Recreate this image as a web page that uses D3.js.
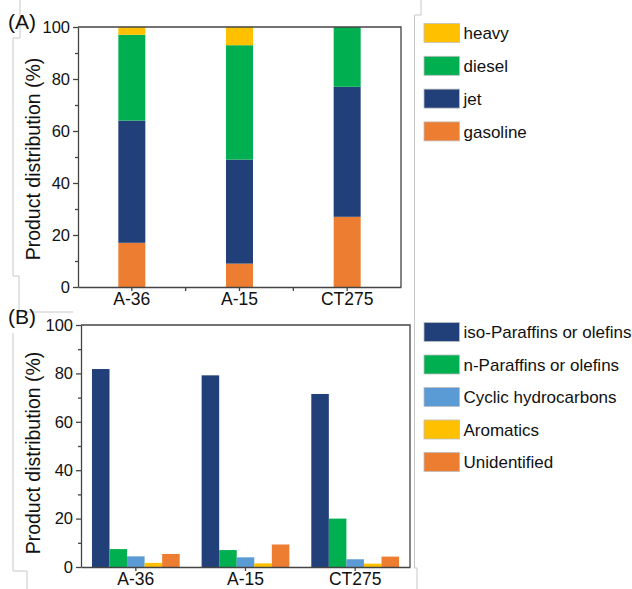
<!DOCTYPE html>
<meta charset="utf-8">
<style>
body { margin: 0; background: #fff; font-family: "Liberation Sans", Arial, Helvetica, sans-serif; }
.axis path, .axis line { stroke: #444; stroke-width: 1.3; }
.axis text { font-size: 16.5px; fill: #111; font-family: "Liberation Sans", Arial, sans-serif; }
.xaxis text { font-size: 17.5px; }
.frame { stroke: #444; stroke-width: 1.3; fill: none; }
.deco { stroke: #c8c8c8; stroke-width: 1; fill: none; }
.legend text { font-size: 17px; fill: #111; }
.ylab { font-size: 19.5px; fill: #111; }
.panel { font-size: 21px; fill: #111; }
</style>
<svg width="632" height="589"></svg>
<script src="https://cdnjs.cloudflare.com/ajax/libs/d3/7.8.5/d3.min.js"></script>
<script>

var catalysts = ["A-36", "A-15", "CT275"];

// panel A: fuel fractions (%), stacked bottom to top
var fuelKeys = ["gasoline", "jet", "diesel", "heavy"];
var gasoline = [17, 9, 27];
var jet      = [47, 40, 50];
var diesel   = [33, 44, 23];
var heavy    = [3, 7, 0];

// panel B: hydrocarbon types (%)
var typeKeys = ["iso-Paraffins or olefins", "n-Paraffins or olefins", "Cyclic hydrocarbons", "Aromatics", "Unidentified"];
var isoPar   = [81.8, 79.2, 71.5];
var nPar     = [7.4, 7.0, 20.0];
var cyclic   = [4.4, 4.0, 3.2];
var aromatic = [1.7, 1.5, 1.4];
var unident  = [5.4, 9.3, 4.3];

var yTicks = [0, 20, 40, 60, 80, 100];
var yMinor = [10, 30, 50, 70, 90];

var fuelColor = d3.scaleOrdinal()
    .domain(fuelKeys)
    .range(["#ED7D31", "#21407A", "#00B050", "#FFC000"]);
var typeColor = d3.scaleOrdinal()
    .domain(typeKeys)
    .range(["#21407A", "#00B050", "#5B9BD5", "#FFC000", "#ED7D31"]);

var svg = d3.select("svg");

// faint frame lines left over from the original figure composite
var decoLines = [
  [[20, 0], [20, 38], [13, 38], [13, 276], [19, 276], [19, 312], [73, 312]],
  [[13, 333], [13, 571], [27, 571], [27, 589]],
  [[421, 0], [421, 15], [414.5, 15], [414.5, 300]],
  [[414.5, 300], [414.5, 568], [417, 568], [417, 589]]
];
svg.selectAll(".deco").data(decoLines).enter().append("path")
    .attr("class", "deco")
    .attr("d", d3.line());

function drawFrame(x, y) {
  var x0 = x.range()[0], x1 = x.range()[1];
  var y0 = y.range()[0], y1 = y.range()[1];
  svg.append("path").attr("class", "frame")
      .attr("d", "M" + x0 + "," + y1 + "H" + x1 + "V" + y0);

  svg.append("g").attr("class", "axis")
      .attr("transform", "translate(" + x0 + ",0)")
      .call(d3.axisLeft(y).tickValues(yTicks).tickSize(5).tickSizeOuter(0).tickPadding(3));
  svg.append("g").attr("class", "axis")
      .attr("transform", "translate(" + x0 + ",0)")
      .call(d3.axisLeft(y).tickValues(yMinor).tickSize(3).tickFormat(""))
      .select(".domain").remove();

  svg.append("g").attr("class", "axis xaxis")
      .attr("transform", "translate(0," + y0 + ")")
      .call(d3.axisBottom(x).tickSize(4).tickSizeOuter(0).tickPadding(2));
}

// ---------- panel A ----------
var xA = d3.scaleBand().domain(catalysts).range([78, 401]);
var yA = d3.scaleLinear().domain([0, 100]).range([287, 27]);
var barW = 27;

var fuelRows = catalysts.map(function(c, i) {
  return { cat: c, gasoline: gasoline[i], jet: jet[i], diesel: diesel[i], heavy: heavy[i] };
});
var stacked = d3.stack().keys(fuelKeys)(fuelRows);

svg.append("g").selectAll("g")
    .data(stacked)
    .enter().append("g")
    .attr("fill", function(d) { return fuelColor(d.key); })
    .selectAll("rect")
    .data(function(d) { return d; })
    .enter().append("rect")
    .attr("x", function(d) { return xA(d.data.cat) + xA.bandwidth() / 2 - barW / 2; })
    .attr("width", barW)
    .attr("y", function(d) { return yA(d[1]); })
    .attr("height", function(d) { return yA(d[0]) - yA(d[1]); });

drawFrame(xA, yA);

// minor ticks between categories
svg.append("g").attr("class", "axis")
    .selectAll("line")
    .data(catalysts.slice(1))
    .enter().append("line")
    .attr("x1", function(d) { return xA(d); })
    .attr("x2", function(d) { return xA(d); })
    .attr("y1", 287).attr("y2", 291);

// ---------- panel B ----------
var xB = d3.scaleBand().domain(catalysts).range([81, 410]);
var yB = d3.scaleLinear().domain([0, 100]).range([567, 325]);
var groupW = xB.bandwidth() * 0.8;
var xB1 = d3.scaleBand().domain(typeKeys).range([0, groupW]);

var typeSeries = [isoPar, nPar, cyclic, aromatic, unident];
var typeRows = catalysts.map(function(c, i) {
  return typeKeys.map(function(k, j) { return { cat: c, key: k, value: typeSeries[j][i] }; });
});

svg.append("g").selectAll("g")
    .data(typeRows)
    .enter().append("g")
    .attr("transform", function(d) {
      return "translate(" + (xB(d[0].cat) + (xB.bandwidth() - groupW) / 2) + ",0)";
    })
    .selectAll("rect")
    .data(function(d) { return d; })
    .enter().append("rect")
    .attr("x", function(d) { return xB1(d.key); })
    .attr("width", xB1.bandwidth())
    .attr("y", function(d) { return yB(d.value); })
    .attr("height", function(d) { return yB(0) - yB(d.value); })
    .attr("fill", function(d) { return typeColor(d.key); });

drawFrame(xB, yB);

// ---------- labels ----------
[[yA, 159], [yB, 453]].forEach(function(p) {
  svg.append("text").attr("class", "ylab")
      .attr("transform", "translate(40," + p[1] + ") rotate(-90)")
      .attr("text-anchor", "middle")
      .text("Product distribution (%)");
});
svg.append("text").attr("class", "panel").attr("x", 8).attr("y", 29).text("(A)");
svg.append("text").attr("class", "panel").attr("x", 8).attr("y", 324).text("(B)");

// ---------- legends ----------
function legend(keys, color, top, step) {
  var g = svg.append("g").attr("class", "legend")
      .selectAll("g")
      .data(keys)
      .enter().append("g")
      .attr("transform", function(d, i) { return "translate(424," + (top + i * step) + ")"; });
  g.append("rect")
      .attr("x", 0).attr("y", -9.5)
      .attr("width", 35.5).attr("height", 19)
      .attr("fill", function(d) { return color(d); })
      .attr("stroke", "#bdbdbd").attr("stroke-width", 0.8);
  g.append("text")
      .attr("x", 39.5).attr("y", 6.2)
      .text(function(d) { return d; });
}
legend(fuelKeys.slice().reverse(), fuelColor, 33, 32.8);
legend(typeKeys, typeColor, 332, 32.5);

</script>
